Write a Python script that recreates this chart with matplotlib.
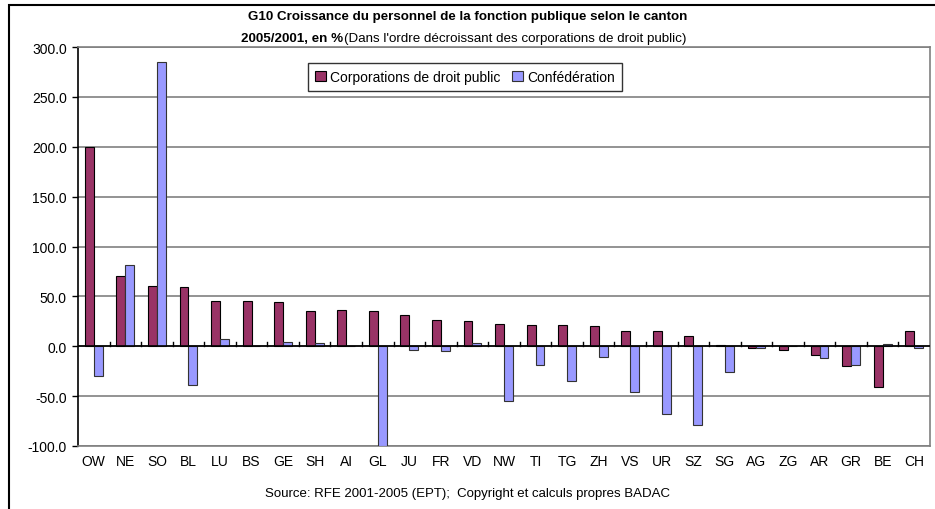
#!/usr/bin/env python3

import matplotlib
matplotlib.use('Agg')
import matplotlib.pyplot as plt
import numpy as np
from matplotlib.patches import Rectangle

cantons = ['OW', 'NE', 'SO', 'BL', 'LU', 'BS', 'GE', 'SH', 'AI', 'GL', 'JU',
           'FR', 'VD', 'NW', 'TI', 'TG', 'ZH', 'VS', 'UR', 'SZ', 'SG', 'AG',
           'ZG', 'AR', 'GR', 'BE', 'CH']
corporations = [200, 70, 60, 59, 45.5, 45.5, 44, 35.5, 36, 35, 31,
                26.5, 25, 22, 21, 21, 20, 15, 15, 10, 1.3, -2,
                -4, -9, -20, -41, 15]
confederation = [-30, 81, 285, -38.5, 7, 0, 4.7, 3.5, 0, -100, -4,
                 -5, 3.7, -55, -19, -35, -11, -46, -68, -79, -25.5, -2,
                 0, -12, -19, 2.7, -1.4]
yticks = [-100, -50, 0, 50, 100, 150, 200, 250, 300]

plt.rcParams['font.family'] = ['Liberation Sans', 'DejaVu Sans']

fig = plt.figure(figsize=(9.35, 5.1), dpi=100)
ax = fig.add_axes([78 / 935, 1 - 447 / 510, 852 / 935, 399 / 510])

x = np.arange(len(cantons))
w = 0.28
ax.bar(x - w / 2, corporations, w, color='#993366', edgecolor='black',
       linewidth=0.8, label='Corporations de droit public', zorder=3)
ax.bar(x + w / 2, confederation, w, color='#9999FF', edgecolor='#333333',
       linewidth=0.8, label='Confédération', zorder=3)

ax.set_xlim(-0.5, len(cantons) - 0.5)
ax.set_ylim(-100, 300)
ax.set_yticks(yticks)
ax.set_yticklabels([f"{v:.1f}" for v in yticks], fontsize=10)
ax.yaxis.grid(True, color='#808080', linewidth=1.2, zorder=0)
ax.axhline(0, color='black', linewidth=1.2, zorder=4)

# category labels below the plot, separator ticks on the zero line
ax.set_xticks(x)
ax.set_xticklabels(cantons, fontsize=10)
ax.tick_params(axis='x', length=0, pad=6)
ax.tick_params(axis='y', direction='out', length=4, width=1, pad=4)
for b in np.arange(0.5, len(cantons) - 0.5):
    ax.plot([b, b], [0, 4], color='black', linewidth=1, zorder=4)

for side in ['top', 'right', 'bottom']:
    ax.spines[side].set_color('#808080')
    ax.spines[side].set_linewidth(1.2)
ax.spines['left'].set_color('black')
ax.spines['left'].set_linewidth(1.2)

leg = ax.legend(loc='upper left', bbox_to_anchor=((308 - 78) / 852, (447 - 64) / 399),
                ncol=2, fontsize=10, frameon=True, fancybox=False,
                handlelength=0.8, handleheight=0.8, handletextpad=0.3,
                columnspacing=0.8, borderpad=0.5, borderaxespad=0)
leg.get_frame().set_edgecolor('black')
leg.get_frame().set_linewidth(1)

fig.text(0.5, 1 - 17 / 510, "G10 Croissance du personnel de la fonction publique selon le canton",
         ha='center', va='center', fontsize=9.6, fontweight='bold')

# second title line: bold part + normal part, centred together
r = fig.canvas.get_renderer()
t1 = fig.text(0, 1 - 39 / 510, "2005/2001, en %", ha='left', va='center',
              fontsize=9.6, fontweight='bold')
t2 = fig.text(0, 1 - 39 / 510, "(Dans l'ordre décroissant des corporations de droit public)",
              ha='left', va='center', fontsize=9.6)
w1 = t1.get_window_extent(r).width + 1
w2 = t2.get_window_extent(r).width
x0 = 464 - (w1 + w2) / 2
t1.set_x(x0 / 935)
t2.set_x((x0 + w1) / 935)

fig.text(0.5, 1 - 494 / 510, "Source: RFE 2001-2005 (EPT);  Copyright et calculs propres BADAC",
         ha='center', va='center', fontsize=9.5)

# outer chart border (top and left edges visible)
fig.add_artist(Rectangle((9 / 935, -0.05), 2, 1.05 - 6 / 510, transform=fig.transFigure,
                         fill=False, edgecolor='black', linewidth=1.5))

fig.savefig('out.png', dpi=100)
